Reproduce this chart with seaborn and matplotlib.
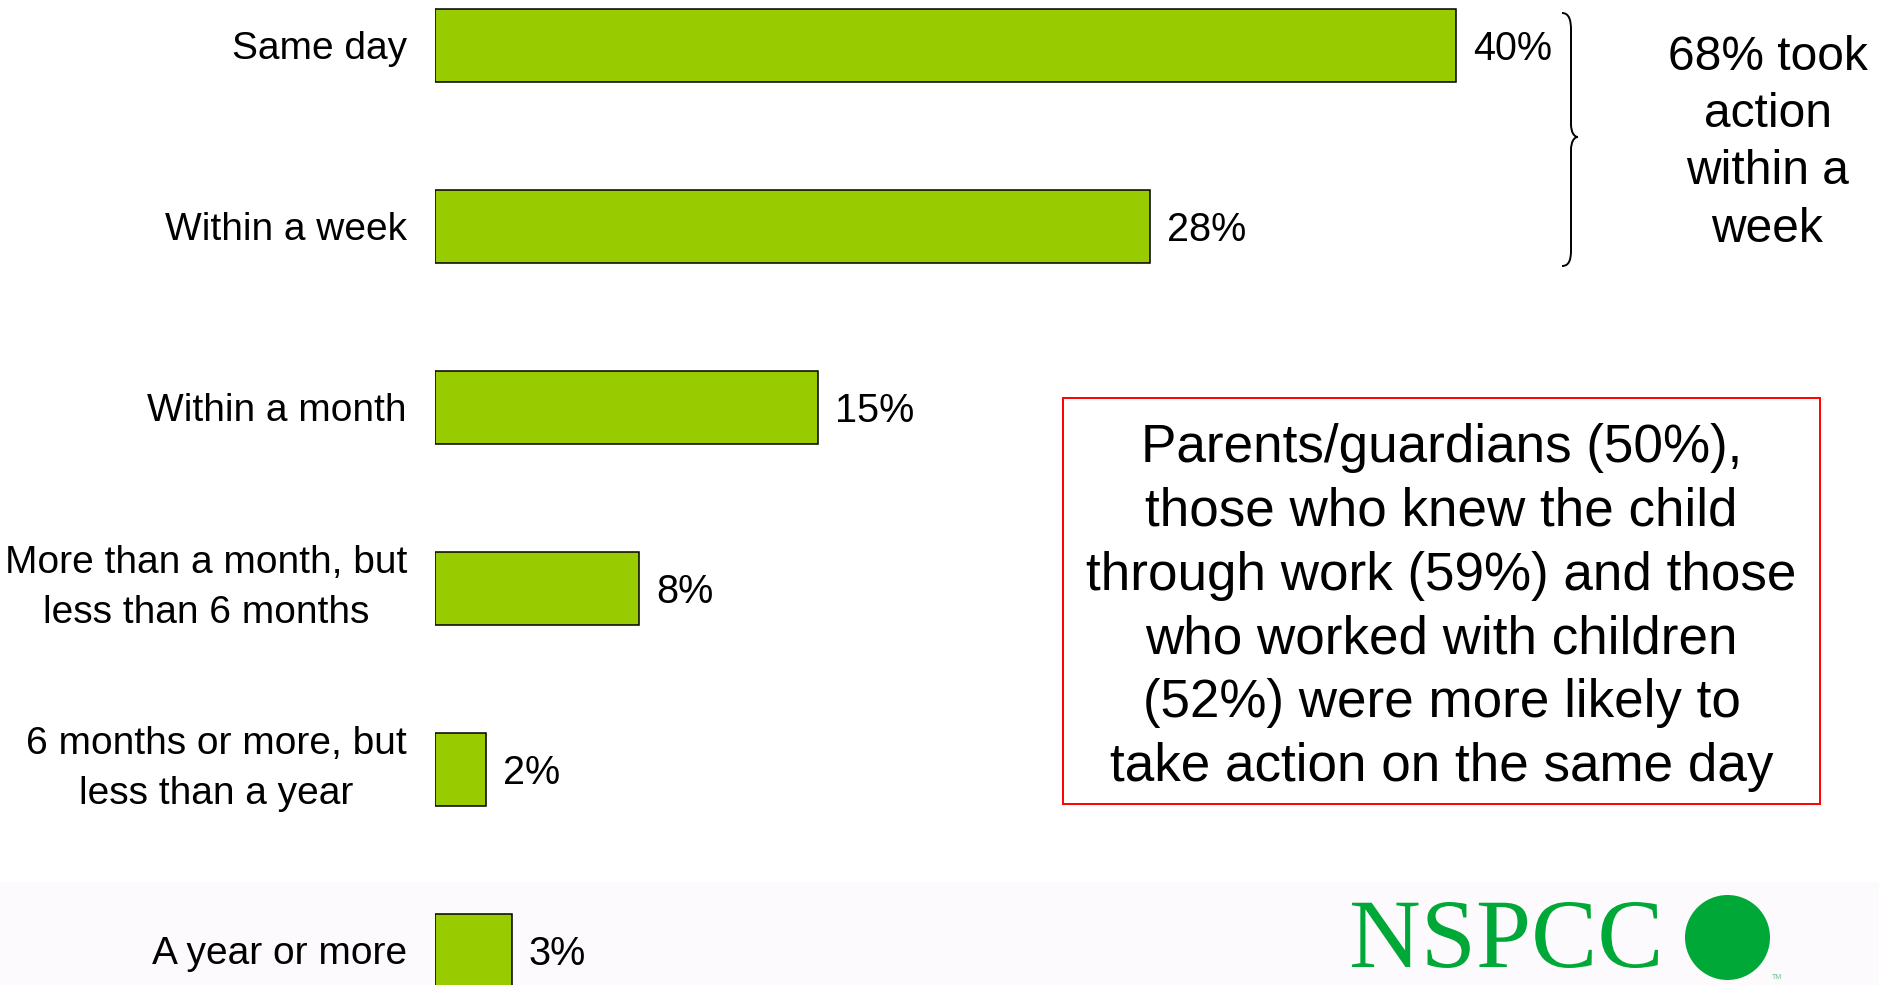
import matplotlib
matplotlib.use("Agg")
import matplotlib.pyplot as plt
import matplotlib.patches as mpatches
import matplotlib.transforms as mtransforms
from matplotlib.path import Path
from matplotlib.textpath import TextPath
from matplotlib.font_manager import FontProperties
import seaborn as sns
import pandas as pd

# Survey answers: how soon action was taken
categories = [
    "Same day",
    "Within a week",
    "Within a month",
    "More than a month, but\nless than 6 months",
    "6 months or more, but\nless than a year",
    "A year or more",
]
percentages = [40, 28, 15, 8, 2, 3]

summary_lines = ["68% took", "action", "within a", "week"]
callout_lines = [
    "Parents/guardians (50%),",
    "those who knew the child",
    "through work (59%) and those",
    "who worked with children",
    "(52%) were more likely to",
    "take action on the same day",
]
logo_text = "NSPCC"

BAR_GREEN = "#99CC00"
LOGO_GREEN = "#00A838"

sns.set_theme(style="white")
plt.rcParams["font.family"] = ["Liberation Sans", "DejaVu Sans"]

W, H = 1879, 985
fig = plt.figure(figsize=(W / 100, H / 100), dpi=100)
fig.patch.set_facecolor("white")


def fx(px):
    return px / W


def fy(py):
    # pixel rows counted from the top
    return 1 - py / H


# pale band along the bottom of the slide
fig.patches.append(mpatches.Rectangle((0, 0), 1, fy(882), transform=fig.transFigure,
                                      facecolor="#FCFAFC", edgecolor="none", zorder=-10))

# bar chart area
left_px = 435
px_per_pct = 25.53
row_px = 181
first_row_px = 45
ax = fig.add_axes([fx(left_px), 0, 1 - fx(left_px), 1])
ax.set_facecolor("none")

df = pd.DataFrame({"when": categories, "pct": percentages})
sns.barplot(data=df, x="pct", y="when", orient="h", color=BAR_GREEN, saturation=1,
            edgecolor="black", linewidth=1.1, width=73 / row_px, ax=ax)

ax.set_xlim(0, (W - left_px) / px_per_pct)
ax.set_ylim((H - first_row_px) / row_px, -first_row_px / row_px)
ax.set_xticks([])
ax.set_xlabel("")
ax.set_ylabel("")
for s in ax.spines.values():
    s.set_visible(False)
ax.tick_params(axis="y", length=0, pad=20.2, labelsize=28, labelcolor="black")
for t in ax.get_yticklabels():
    t.set_multialignment("center")
    t.set_linespacing(1.5)
    if "\n" in t.get_text():
        t.set_verticalalignment("center")

# value labels at the end of each bar
for bar, v in zip(ax.containers[0], percentages):
    ax.annotate(f"{v}%", xy=(bar.get_width(), bar.get_y() + bar.get_height() / 2),
                xytext=(12.5, 0), textcoords="offset points",
                ha="left", va="center_baseline", fontsize=28.5, color="black")

# curly brace grouping the first two bars
brace = Path(
    [(1562, 13), (1569, 13), (1571, 20), (1571, 30),
     (1571, 124),
     (1571, 132), (1574, 137), (1578, 137),
     (1574, 137), (1571, 142), (1571, 150),
     (1571, 250),
     (1571, 260), (1569, 266), (1562, 266)],
    [Path.MOVETO, Path.CURVE4, Path.CURVE4, Path.CURVE4,
     Path.LINETO,
     Path.CURVE4, Path.CURVE4, Path.CURVE4,
     Path.CURVE4, Path.CURVE4, Path.CURVE4,
     Path.LINETO,
     Path.CURVE4, Path.CURVE4, Path.CURVE4],
)
to_fig = mtransforms.Affine2D().scale(1 / W, -1 / H).translate(0, 1) + fig.transFigure
fig.patches.append(mpatches.PathPatch(brace, transform=to_fig, facecolor="none",
                                      edgecolor="black", linewidth=1.4))

# summary next to the brace
for i, line in enumerate(summary_lines):
    fig.text(fx(1767.5), fy(70 + 57.2 * i), line, ha="center", va="baseline",
             fontsize=34.5, color="black")

# red-bordered callout
fig.patches.append(mpatches.Rectangle((fx(1063), fy(804)), fx(1820 - 1063), (804 - 398) / H,
                                      transform=fig.transFigure, facecolor="white",
                                      edgecolor="#FF0000", linewidth=1.4))
for i, line in enumerate(callout_lines):
    fig.text(fx(1441.5), fy(462 + 63.8 * i), line, ha="center", va="baseline",
             fontsize=38.2, color="black")

# NSPCC logo: serif wordmark plus green dot
tp = TextPath((0, 0), logo_text, size=100, prop=FontProperties(family="Liberation Serif"))
ext = tp.get_extents()
logo_tf = (mtransforms.Affine2D()
           .translate(-ext.x0, -ext.y0)
           .scale(306 / ext.width, 66 / ext.height)
           .translate(1352, H - 968)
           .scale(1 / W, 1 / H)) + fig.transFigure
fig.patches.append(mpatches.PathPatch(tp, transform=logo_tf, facecolor=LOGO_GREEN,
                                      edgecolor="none"))
fig.patches.append(mpatches.Ellipse((fx(1727.5), fy(937.5)), 85 / W, 85 / H,
                                    transform=fig.transFigure, facecolor=LOGO_GREEN,
                                    edgecolor="none"))
fig.text(fx(1772), fy(979), "TM", ha="left", va="baseline", fontsize=5, color="#6FBF8A")

fig.savefig("out.png", dpi=100)
